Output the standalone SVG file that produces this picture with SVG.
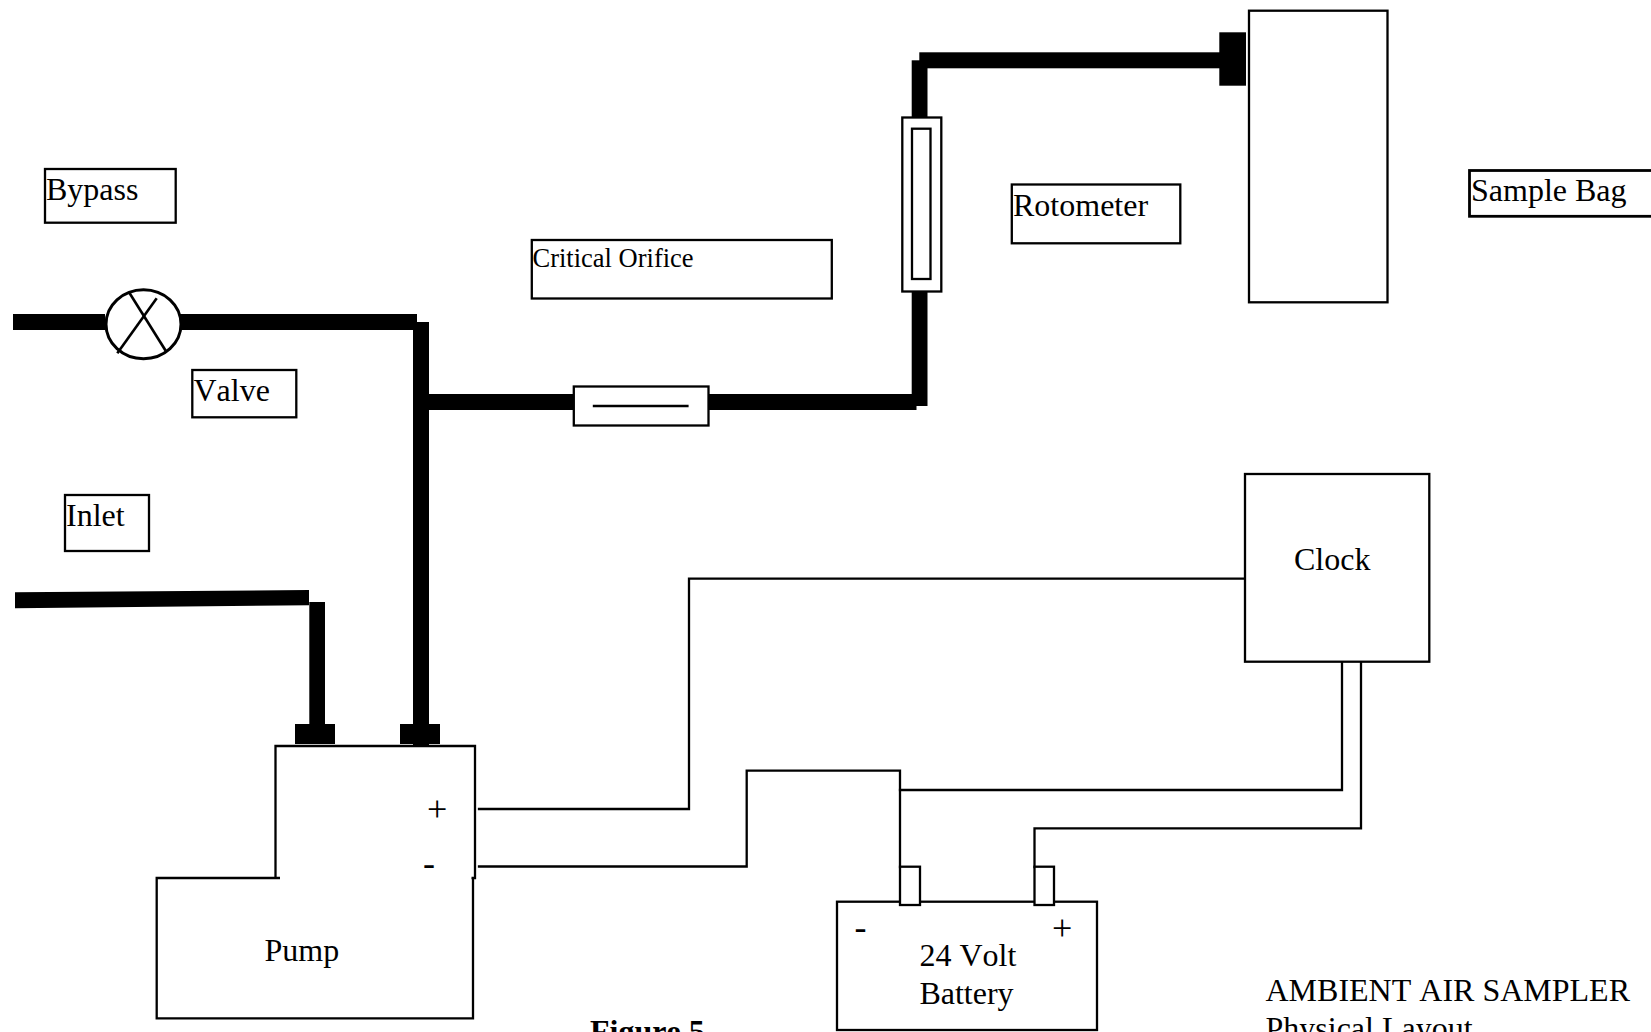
<svg xmlns="http://www.w3.org/2000/svg" width="1651" height="1032" viewBox="0 0 1651 1032">
<style>
text{font-family:"Liberation Serif","Times New Roman",serif;font-size:32px;fill:#000;font-kerning:none}
.box{fill:#fff;stroke:#000;stroke-width:2.3}
.line{fill:none;stroke:#000;stroke-width:2.3}
.wire{fill:none;stroke:#000;stroke-width:2.3;stroke-linejoin:miter;stroke-linecap:square}
.pipe{fill:#000;stroke:none}
.sm{font-size:26.5px}
.bold{font-weight:bold}
.sign{font-size:36px}
</style>
<rect width="1651" height="1032" fill="#fff"/>
<g id="connectors">
<g id="pipes">
<rect class="pipe" x="13" y="314" width="92" height="16"/>
<rect class="pipe" x="175" y="314" width="242" height="16"/>
<rect class="pipe" x="413" y="322" width="16" height="424"/>
<rect class="pipe" x="429" y="394" width="145" height="16"/>
<rect class="pipe" x="708" y="394" width="208.500" height="16"/>
<rect class="pipe" x="911.700" y="291" width="15.800" height="115"/>
<rect class="pipe" x="911.700" y="60.300" width="15.800" height="58"/>
<rect class="pipe" x="919.300" y="52.300" width="301" height="16"/>
<polygon class="pipe" points="15,592.300 309,590 309,605.300 15,608.300"/>
<rect class="pipe" x="309.300" y="602" width="15.700" height="123"/>
</g>
<g id="wires">
<path class="wire" d="M479 809H689V578.700H1245"/>
<path class="wire" d="M479 866.500H746.700V770.700H900V867"/>
<path class="wire" d="M900 790H1342V662"/>
<path class="wire" d="M1034.500 867V828.300H1361V662"/>
</g>
</g>
<g id="valve">
<ellipse class="box" style="stroke-width:3" cx="143.500" cy="324.200" rx="37.500" ry="34.500"/>
<line class="line" style="stroke-width:2.600" x1="128.700" y1="291.700" x2="165.700" y2="350.700"/>
<line class="line" style="stroke-width:2.600" x1="117.300" y1="353.300" x2="156.700" y2="298.300"/>
</g>
<g id="label-bypass"><rect class="box" x="45" y="169" width="130.700" height="53.700"/><text x="46" y="200">Bypass</text></g>
<g id="label-valve"><rect class="box" x="192.300" y="370" width="104" height="47.300"/><text x="193.500" y="400.700">Valve</text></g>
<g id="label-inlet"><rect class="box" x="65" y="495" width="84" height="56"/><text x="66" y="526">Inlet</text></g>
<g id="label-critical-orifice"><rect class="box" x="531.800" y="240" width="300" height="58.500"/><text class="sm" x="532.500" y="267.300">Critical Orifice</text></g>
<g id="critical-orifice"><rect class="box" x="573.800" y="386.500" width="134.700" height="39"/><line class="line" x1="592.800" y1="406" x2="688.600" y2="406"/></g>
<g id="rotometer"><rect class="box" x="902.300" y="117.500" width="39" height="174"/><rect class="box" x="912" y="128.700" width="18.500" height="150.300"/></g>
<g id="label-rotometer"><rect class="box" x="1011.800" y="184.500" width="168.500" height="58.800"/><text x="1013" y="216">Rotometer</text></g>
<g id="sample-bag"><rect class="pipe" x="1219.300" y="32.300" width="26.700" height="53.400"/><rect class="box" x="1249" y="10.700" width="138.500" height="291.600"/></g>
<g id="label-sample-bag"><rect class="box" style="stroke-width:2.800" x="1469.500" y="170.500" width="190" height="45.800"/><text x="1471" y="201">Sample Bag</text></g>
<g id="clock"><rect class="box" x="1245" y="474" width="184.300" height="187.700"/><text x="1294" y="570">Clock</text></g>
<g id="pump">
<rect class="pipe" x="295" y="724" width="40" height="20"/>
<rect class="pipe" x="400" y="724" width="40" height="20"/>
<path class="line" d="M275.500 878V746H475V878H471.500"/>
<path class="line" d="M280 878H156.700V1018.300H473V878"/>
<text class="sign" x="427" y="821">+</text>
<text class="sign" x="423" y="875">-</text>
<text x="264.500" y="960.700">Pump</text>
</g>
<g id="battery">
<rect class="box" x="837" y="901.700" width="260" height="128.300"/>
<rect class="box" x="900" y="866.700" width="20" height="38.300"/>
<rect class="box" x="1034.500" y="866.700" width="19.500" height="38.300"/>
<text class="sign" x="854.500" y="938.500">-</text>
<text class="sign" x="1052" y="940">+</text>
<text x="919.400" y="966">24 Volt</text>
<text x="919.400" y="1004.300">Battery</text>
</g>
<g id="captions">
<text class="bold" x="590" y="1042">Figure 5</text>
<text x="1265.500" y="1001">AMBIENT AIR SAMPLER</text>
<text x="1265.500" y="1039">Physical Layout</text>
</g>
</svg>
